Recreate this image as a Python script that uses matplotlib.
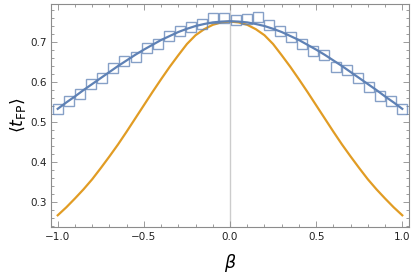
import matplotlib
matplotlib.use("Agg")
import matplotlib.pyplot as plt
from matplotlib.ticker import MultipleLocator

# simulation points (squares)
beta_pts = [-1.0, -0.9355, -0.871, -0.8065, -0.7419, -0.6774, -0.6129, -0.5484,
            -0.4839, -0.4194, -0.3548, -0.2903, -0.2258, -0.1613, -0.0968, -0.0323,
            0.0323, 0.0968, 0.1613, 0.2258, 0.2903, 0.3548, 0.4194, 0.4839,
            0.5484, 0.6129, 0.6774, 0.7419, 0.8065, 0.871, 0.9355, 1.0]
tfp_pts = [0.5325, 0.552, 0.5685, 0.594, 0.610, 0.6335, 0.652, 0.661,
           0.685, 0.694, 0.7135, 0.727, 0.7375, 0.744, 0.760, 0.7585,
           0.7535, 0.7575, 0.762, 0.742, 0.7275, 0.711, 0.6935, 0.6775,
           0.667, 0.636, 0.629, 0.6085, 0.586, 0.564, 0.5525, 0.5325]

# curves
beta_curve = [-1.0, -0.95, -0.9, -0.85, -0.8, -0.75, -0.7, -0.65, -0.6, -0.55, -0.5,
              -0.45, -0.4, -0.35, -0.3, -0.25, -0.2, -0.15, -0.1, -0.05, 0.0,
              0.05, 0.1, 0.15, 0.2, 0.25, 0.3, 0.35, 0.4, 0.45, 0.5,
              0.55, 0.6, 0.65, 0.7, 0.75, 0.8, 0.85, 0.9, 0.95, 1.0]
blue_curve = [0.532, 0.548, 0.563, 0.579, 0.594, 0.609, 0.624, 0.639, 0.653, 0.667, 0.680,
              0.692, 0.704, 0.714, 0.724, 0.732, 0.739, 0.744, 0.748, 0.750, 0.751,
              0.750, 0.748, 0.744, 0.739, 0.732, 0.724, 0.714, 0.704, 0.692, 0.680,
              0.667, 0.653, 0.639, 0.624, 0.609, 0.594, 0.579, 0.563, 0.548, 0.532]
orange_curve = [0.266, 0.286, 0.308, 0.331, 0.356, 0.384, 0.413, 0.443, 0.475, 0.508, 0.541,
                0.574, 0.606, 0.637, 0.666, 0.694, 0.716, 0.731, 0.742, 0.748, 0.750,
                0.748, 0.742, 0.731, 0.716, 0.694, 0.666, 0.637, 0.606, 0.574, 0.541,
                0.508, 0.475, 0.443, 0.413, 0.384, 0.356, 0.331, 0.308, 0.286, 0.266]

xticks = [-1.0, -0.5, 0.0, 0.5, 1.0]
xticklabels = ["\u22121.0", "\u22120.5", "0.0", "0.5", "1.0"]
yticks = [0.3, 0.4, 0.5, 0.6, 0.7]
yticklabels = ["0.3", "0.4", "0.5", "0.6", "0.7"]

BLUE = "#5E81B5"
ORANGE = "#E19C24"
FRAME = "#8c8c8c"

fig = plt.figure(figsize=(4.15, 2.75), dpi=100)
ax = fig.add_axes([51/415, 1 - 226.7/275, (409-51)/415, (226.7-4)/275])

ax.axvline(0, color="#cccccc", lw=1.0, zorder=0)
ax.plot(beta_curve, orange_curve, color=ORANGE, lw=1.6, zorder=2)
ax.plot(beta_curve, blue_curve, color=BLUE, lw=1.6, zorder=3)
ax.plot(beta_pts, tfp_pts, ls="none", marker="s", ms=7.8, mfc="none",
        mec=BLUE, mew=1.0, alpha=0.75, zorder=4)

ax.set_xlim(-1.039, 1.039)
ax.set_ylim(0.2375, 0.794)

ax.set_xticks(xticks)
ax.set_xticklabels(xticklabels)
ax.set_yticks(yticks)
ax.set_yticklabels(yticklabels)
ax.xaxis.set_minor_locator(MultipleLocator(0.1))
ax.yaxis.set_minor_locator(MultipleLocator(0.02))

for s in ax.spines.values():
    s.set_color(FRAME)
    s.set_linewidth(0.8)

ax.tick_params(which="both", direction="in", top=True, right=True, color=FRAME,
               width=0.6, labelsize=7.5, labelcolor="#222222")
ax.tick_params(which="major", length=4)
ax.tick_params(which="minor", length=2.3)
ax.tick_params(axis="x", pad=4)
ax.tick_params(axis="y", pad=3)

ax.set_xlabel(r"$\beta$", fontsize=12.5, labelpad=7)
ax.set_ylabel(r"$\langle t_{\mathsf{FP}} \rangle$", fontsize=12.5, labelpad=2)

fig.savefig("out.png", dpi=100)
